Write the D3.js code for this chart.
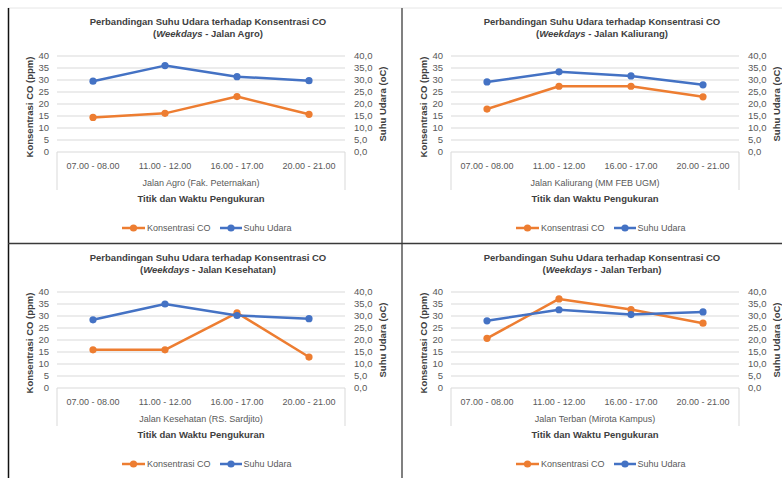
<!DOCTYPE html>
<html>
<head>
<meta charset="utf-8">
<script src="https://cdn.jsdelivr.net/npm/d3@7"></script>
<style>
  html, body { margin: 0; padding: 0; background: #fff; }
  svg { display: block; font-family: "Liberation Sans", Arial, sans-serif; }
</style>
</head>
<body>
<svg id="chart" width="782" height="478"></svg>
<script>
// Measurement periods shared by all four sites
const categories = ["07.00 - 08.00", "11.00 - 12.00", "16.00 - 17.00", "20.00 - 21.00"];

// Site names (title suffix) and full location labels
const siteNames = ["Jalan Agro", "Jalan Kaliurang", "Jalan Kesehatan", "Jalan Terban"];
const siteLabels = ["Jalan Agro (Fak. Peternakan)", "Jalan Kaliurang (MM FEB UGM)",
                    "Jalan Kesehatan (RS. Sardjito)", "Jalan Terban (Mirota Kampus)"];

// CO concentration (ppm)
const coAgro      = [14.4, 16.1, 23.1, 15.7];
const coKaliurang = [17.9, 27.4, 27.4, 23.0];
const coKesehatan = [15.9, 15.9, 31.3, 12.9];
const coTerban    = [20.7, 37.1, 32.7, 27.0];

// Air temperature (°C)
const suhuAgro      = [29.5, 36.0, 31.4, 29.7];
const suhuKaliurang = [29.2, 33.4, 31.7, 28.0];
const suhuKesehatan = [28.4, 35.0, 30.2, 28.9];
const suhuTerban    = [28.0, 32.6, 30.6, 31.7];

// Axis ticks
const coTicks   = [0, 5, 10, 15, 20, 25, 30, 35, 40];
const suhuTicks = [0, 5, 10, 15, 20, 25, 30, 35, 40];

const coSeries   = [coAgro, coKaliurang, coKesehatan, coTerban];
const suhuSeries = [suhuAgro, suhuKaliurang, suhuKesehatan, suhuTerban];

const ORANGE = "#ED7D31";
const BLUE = "#4472C4";
const GRID = "#d9d9d9";
const TICK_TXT = "#595959";
const TITLE_TXT = "#404040";

const svg = d3.select("#chart");

// Panel origins in a 2x2 layout
const origins = [[0, 0], [394, 0], [0, 236], [394, 236]];

const fmtSuhu = d => d3.format(".1f")(d).replace(".", ",");

function drawPanel(i) {
  const [ox, oy] = origins[i];
  const g = svg.append("g").attr("transform", `translate(${ox},${oy})`);

  const x = d3.scaleBand().domain(categories).range([57, 345]);
  const yL = d3.scaleLinear().domain([0, 40]).range([152, 56]);
  const yR = d3.scaleLinear().domain([0, 40]).range([152, 56]);

  // Horizontal gridlines
  g.append("g").selectAll("line").data(coTicks.filter(t => t > 0)).join("line")
    .attr("x1", 57).attr("x2", 345)
    .attr("y1", d => yL(d)).attr("y2", d => yL(d))
    .attr("stroke", GRID).attr("stroke-width", 1);

  // Category box (axis line with side borders)
  const box = g.append("g").attr("stroke", GRID).attr("stroke-width", 1).attr("fill", "none");
  box.append("line").attr("x1", 57).attr("x2", 345).attr("y1", 152).attr("y2", 152);
  box.append("line").attr("x1", 57).attr("x2", 57).attr("y1", 152).attr("y2", 190);
  box.append("line").attr("x1", 345).attr("x2", 345).attr("y1", 152).attr("y2", 190);

  // Left axis tick labels
  g.append("g").selectAll("text").data(coTicks).join("text")
    .attr("x", 49).attr("y", d => yL(d)).attr("dy", "0.35em")
    .attr("text-anchor", "end").attr("font-size", 9.5).attr("fill", TICK_TXT)
    .text(d => d);

  // Right axis tick labels
  g.append("g").selectAll("text").data(suhuTicks).join("text")
    .attr("x", 354).attr("y", d => yR(d)).attr("dy", "0.35em")
    .attr("text-anchor", "start").attr("font-size", 9.5).attr("fill", TICK_TXT)
    .text(fmtSuhu);

  // Category labels
  g.append("g").selectAll("text").data(categories).join("text")
    .attr("x", d => x(d) + x.bandwidth() / 2).attr("y", 166).attr("dy", "0.35em")
    .attr("text-anchor", "middle").attr("font-size", 9).attr("fill", TICK_TXT)
    .text(d => d);

  // Site label (outer category level)
  g.append("text").attr("x", 201).attr("y", 183).attr("dy", "0.35em")
    .attr("text-anchor", "middle").attr("font-size", 9).attr("fill", TICK_TXT)
    .text(siteLabels[i]);

  // Axis titles
  g.append("text").attr("x", 201).attr("y", 199).attr("dy", "0.35em")
    .attr("text-anchor", "middle").attr("font-size", 9.5).attr("font-weight", "bold")
    .attr("fill", TITLE_TXT).text("Titik dan Waktu Pengukuran");
  g.append("text").attr("transform", "translate(30,107) rotate(-90)").attr("dy", "0.35em")
    .attr("text-anchor", "middle").attr("font-size", 9.5).attr("font-weight", "bold")
    .attr("fill", TITLE_TXT).text("Konsentrasi CO (ppm)");
  g.append("text").attr("transform", "translate(383,104) rotate(-90)").attr("dy", "0.35em")
    .attr("text-anchor", "middle").attr("font-size", 9.5).attr("font-weight", "bold")
    .attr("fill", TITLE_TXT).text("Suhu Udara (oC)");

  // Chart title (two lines)
  const t = g.append("g").attr("font-size", 9.5).attr("font-weight", "bold").attr("fill", TITLE_TXT)
    .attr("text-anchor", "middle");
  t.append("text").attr("x", 208).attr("y", 22).attr("dy", "0.35em")
    .text("Perbandingan Suhu Udara terhadap Konsentrasi CO");
  const t2 = t.append("text").attr("x", 208).attr("y", 34).attr("dy", "0.35em");
  t2.append("tspan").text("(");
  t2.append("tspan").attr("font-style", "italic").text("Weekdays");
  t2.append("tspan").text(` - ${siteNames[i]})`);

  // Series lines and markers
  const cx = d => x(d) + x.bandwidth() / 2;
  const series = [
    { vals: coSeries[i], y: yL, color: ORANGE },
    { vals: suhuSeries[i], y: yR, color: BLUE }
  ];
  series.forEach(s => {
    const pts = categories.map((c, k) => [cx(c), s.y(s.vals[k])]);
    g.append("path").attr("d", d3.line()(pts))
      .attr("fill", "none").attr("stroke", s.color).attr("stroke-width", 2.5)
      .attr("stroke-linejoin", "round");
    g.append("g").selectAll("circle").data(pts).join("circle")
      .attr("cx", d => d[0]).attr("cy", d => d[1]).attr("r", 3.6)
      .attr("fill", s.color);
  });

  // Legend
  const legend = [
    { label: "Konsentrasi CO", color: ORANGE, x0: 122, x1: 145, tx: 147 },
    { label: "Suhu Udara", color: BLUE, x0: 220, x1: 242, tx: 243.5 }
  ];
  legend.forEach(l => {
    g.append("line").attr("x1", l.x0).attr("x2", l.x1).attr("y1", 228).attr("y2", 228)
      .attr("stroke", l.color).attr("stroke-width", 2.5);
    g.append("circle").attr("cx", (l.x0 + l.x1) / 2).attr("cy", 228).attr("r", 3.6).attr("fill", l.color);
    g.append("text").attr("x", l.tx).attr("y", 228).attr("dy", "0.35em")
      .attr("font-size", 9).attr("fill", TICK_TXT).text(l.label);
  });
}

for (let i = 0; i < 4; i++) drawPanel(i);

// Frame lines separating the panels
svg.append("line").attr("x1", 8).attr("x2", 782).attr("y1", 8).attr("y2", 8)
  .attr("stroke", "#e6e6e6").attr("stroke-width", 1);
svg.append("line").attr("x1", 8.5).attr("x2", 8.5).attr("y1", 8).attr("y2", 478)
  .attr("stroke", "#111").attr("stroke-width", 1.5);
svg.append("line").attr("x1", 402).attr("x2", 402).attr("y1", 8).attr("y2", 478)
  .attr("stroke", "#808080").attr("stroke-width", 2);
svg.append("line").attr("x1", 8).attr("x2", 782).attr("y1", 243.5).attr("y2", 243.5)
  .attr("stroke", "#3a3a3a").attr("stroke-width", 1.5);
</script>
</body>
</html>
